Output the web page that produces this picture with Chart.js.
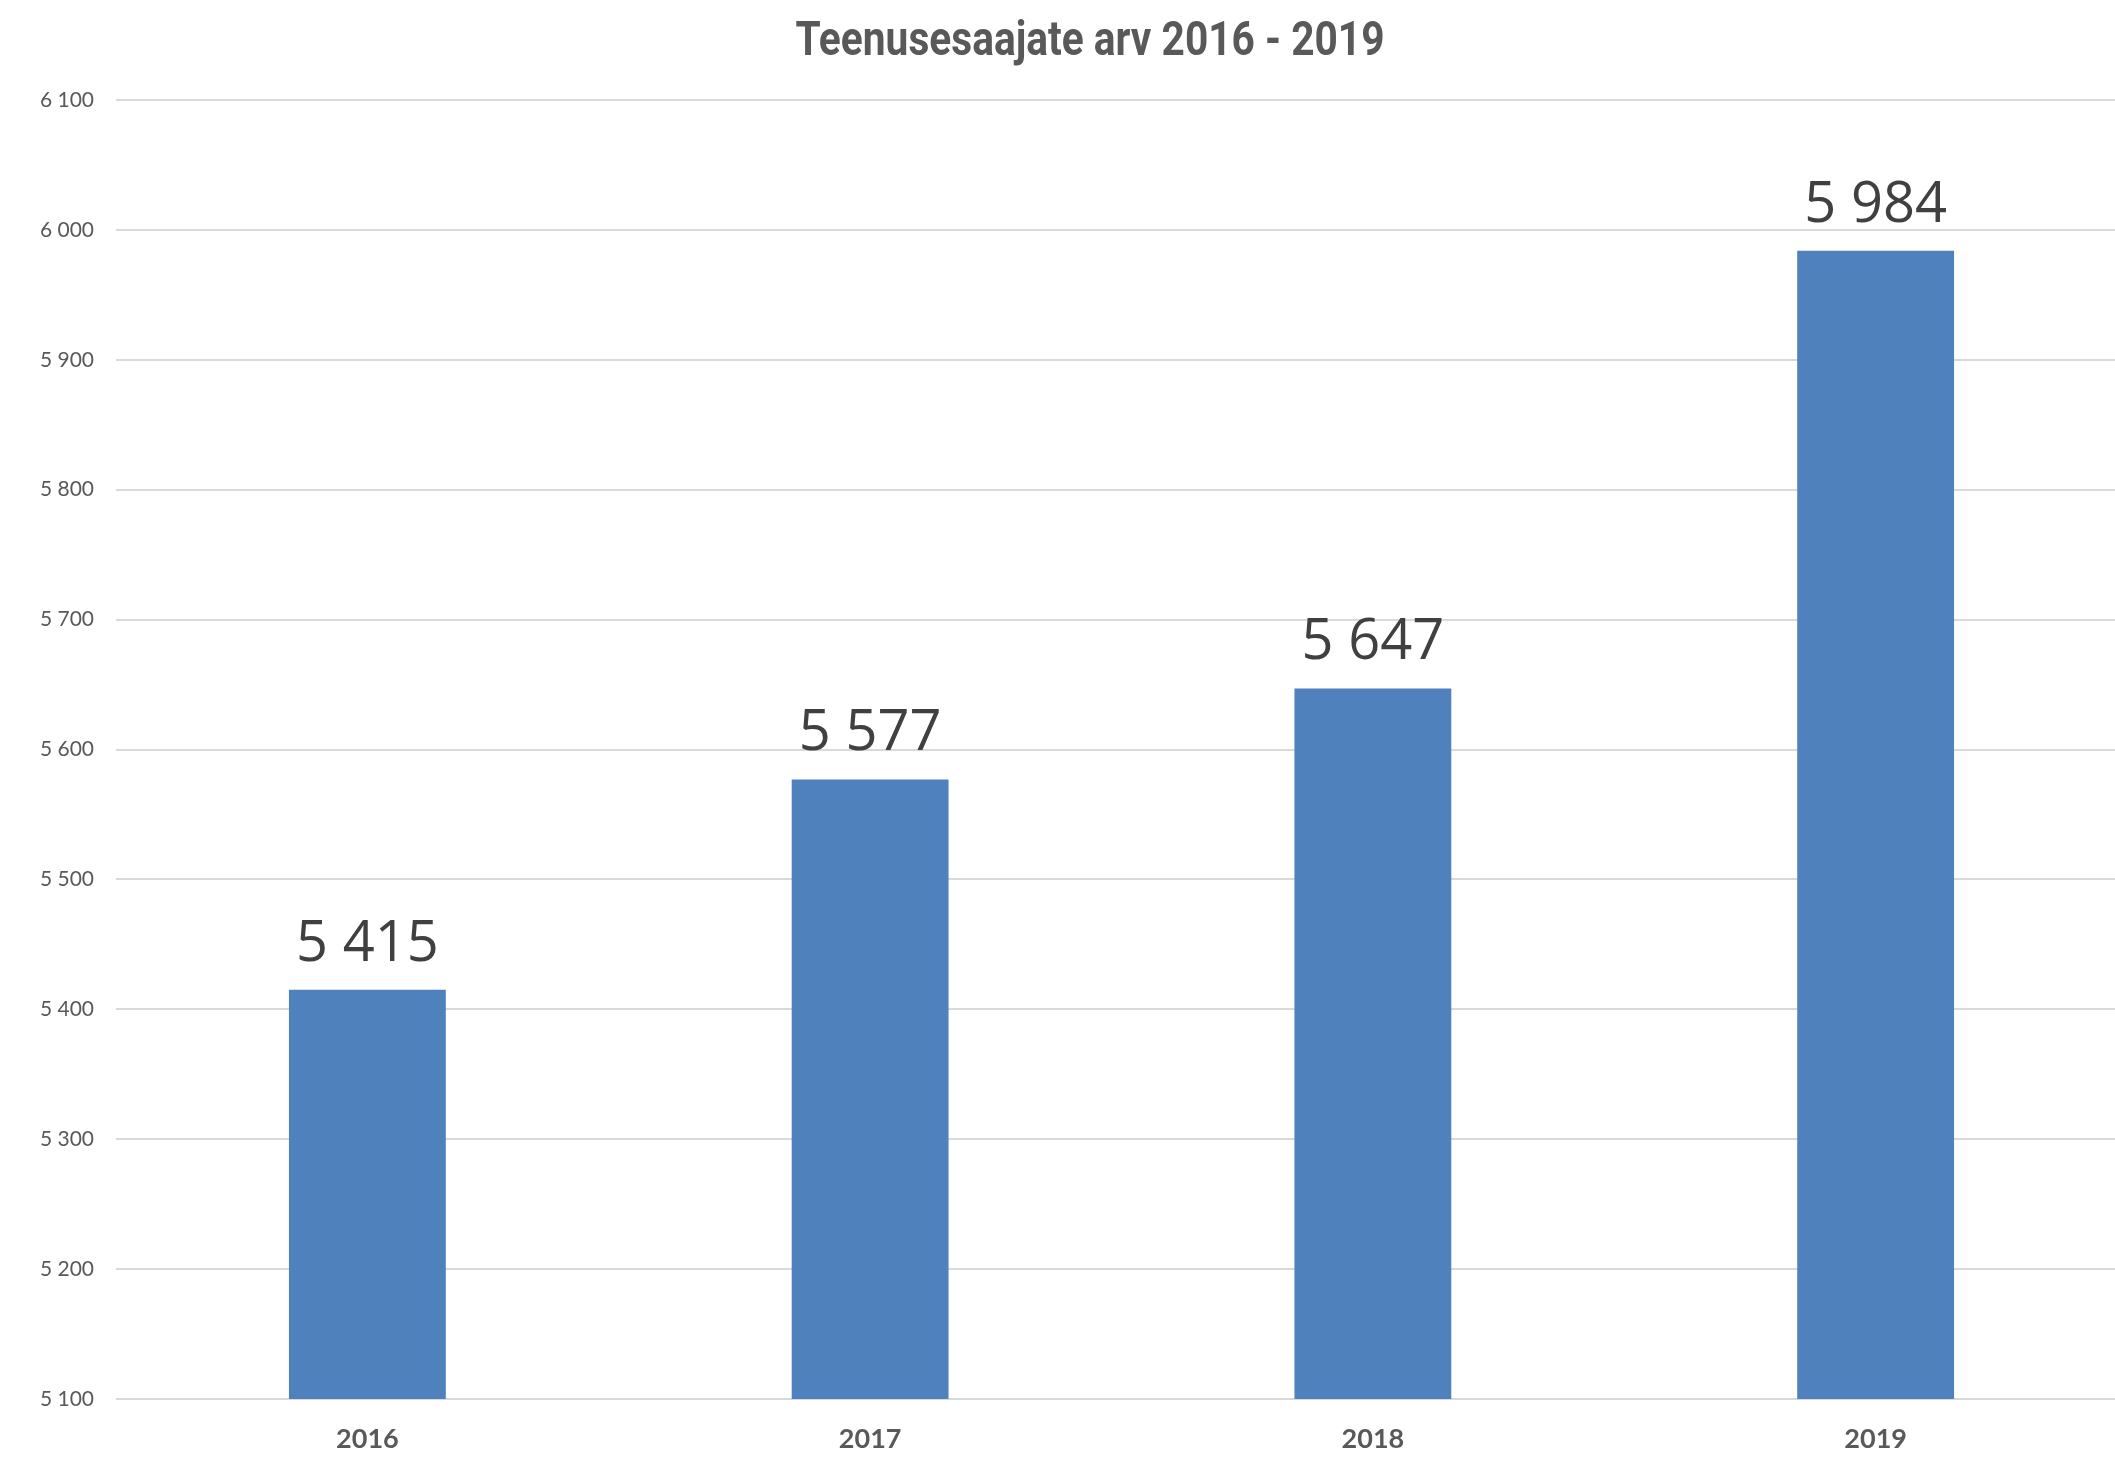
<!DOCTYPE html>
<html>
<head>
<meta charset="utf-8">
<script src="https://cdn.jsdelivr.net/npm/chart.js@4"></script>
<style>
html,body{margin:0;padding:0;background:#fff;overflow:hidden;}
#wrap{width:2127px;height:1458px;}
</style>
</head>
<body>
<div id="wrap"><canvas id="c" width="2127" height="1458"></canvas></div>
<script>
const chartTitle = "Teenusesaajate arv 2016 - 2019";
const categories = ["2016", "2017", "2018", "2019"];
const recipients = [5415, 5577, 5647, 5984];
const yMin = 5100, yMax = 6100, yStep = 100;

function fmt(v){ return String(Math.round(v)).replace(/\B(?=(\d{3})+(?!\d))/g, " "); }

const titlePlugin = {
  id: 'customTitle',
  afterDraw(chart){
    const ctx = chart.ctx;
    ctx.save();
    ctx.font = "bold 49px Roboto";
    ctx.fillStyle = "#595959";
    const w = ctx.measureText(chartTitle).width;
    const target = 589;
    const s = target / w;
    ctx.translate(1090, 55);
    ctx.scale(s, 1);
    ctx.textAlign = "center";
    ctx.textBaseline = "alphabetic";
    ctx.fillText(chartTitle, 0, 0);
    ctx.restore();
  }
};

const valueLabels = {
  id: 'valueLabels',
  afterDatasetsDraw(chart){
    const ctx = chart.ctx;
    const meta = chart.getDatasetMeta(0);
    ctx.save();
    ctx.font = "56px 'Open Sans'";
    ctx.fillStyle = "#404040";
    ctx.textAlign = "center";
    ctx.textBaseline = "alphabetic";
    meta.data.forEach((bar, i) => {
      ctx.fillText(fmt(chart.data.datasets[0].data[i]), bar.x, bar.y - 29);
    });
    ctx.restore();
  }
};

new Chart(document.getElementById('c'), {
  type: 'bar',
  data: {
    labels: categories,
    datasets: [{
      data: recipients,
      backgroundColor: '#4f81bd',
      borderWidth: 0,
      barPercentage: 0.312,
      categoryPercentage: 1.0
    }]
  },
  options: {
    responsive: false,
    animation: false,
    layout: { padding: { top: 100, left: 0, right: 0, bottom: 0 } },
    plugins: { legend: { display: false }, title: { display: false }, tooltip: { enabled: false } },
    scales: {
      x: {
        grid: { display: false, drawTicks: false },
        border: { display: false },
        ticks: { color: '#595959', font: { family: 'Lato', size: 27, weight: 'bold' }, padding: 24 },
        afterFit(scale){ scale.height = 59; }
      },
      y: {
        min: yMin, max: yMax,
        ticks: { stepSize: yStep, color: '#595959', font: { family: 'Lato', size: 21 }, padding: 22,
          callback: v => fmt(v) },
        grid: { color: '#d9d9d9', lineWidth: 2, drawTicks: false },
        border: { display: false },
        afterFit(scale){ scale.width = 116; }
      }
    }
  },
  plugins: [titlePlugin, valueLabels]
});
</script>
</body>
</html>
